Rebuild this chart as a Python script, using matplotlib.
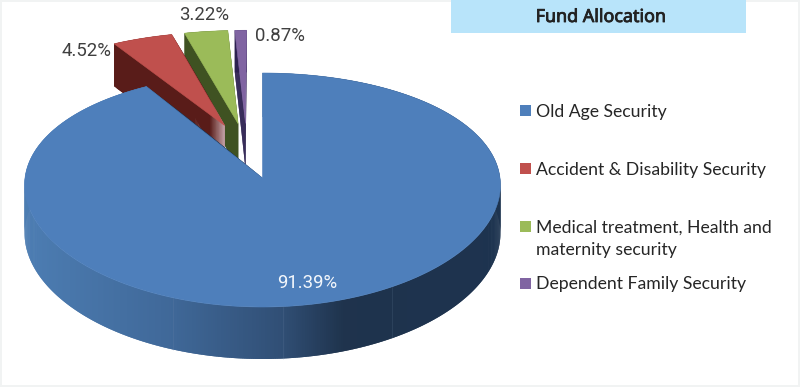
import numpy as np
import matplotlib
matplotlib.use('Agg')
import matplotlib.pyplot as plt
import matplotlib.patheffects as pe
from matplotlib.colors import to_rgb
from matplotlib.patches import Polygon, Rectangle

# data
categories = ['Old Age Security', 'Accident & Disability Security',
              'Medical treatment, Health and\nmaternity security', 'Dependent Family Security']
shares = [91.39, 4.52, 3.22, 0.87]

# style
top_colors = ['#4e7fbb', '#c0504d', '#9bbb59', '#8064a2']
wall_colors = ['#1d3350', '#591c19', '#3f5222', '#2c2050']
label_pos = [(307, 283), (86, 51), (204, 15), (280, 36)]
label_colors = ['#f2f6fb', '#404040', '#404040', '#404040']
legend_y = [110, 168, 226, 283]
seam_x = [173, 283, 392]
explode = 0.25


def project(u, q):
    # pie plane to picture pixels, a little perspective
    v = -np.asarray(q, dtype=float)
    x = 262.5 + 237.5 * np.asarray(u) * (1 + 0.06 * v)
    y = 178 + 117 * v + 12 * v ** 2
    return x, y, 48 + 4 * v


def direction(deg):
    a = np.radians(deg)
    return np.sin(a), np.cos(a)


def mix(c1, c2, t):
    c1, c2 = np.array(to_rgb(c1)), np.array(to_rgb(c2))
    return tuple(c1 + (c2 - c1) * t)


def blue_wall_color(x):
    # lit on the left, dark from the middle to the right
    xs = [25, 170, 283, 345, 505]
    rs = [0.30, 0.25, 0.19, 0.12, 0.115]
    gs = [0.49, 0.41, 0.31, 0.20, 0.20]
    bs = [0.70, 0.60, 0.46, 0.30, 0.31]
    return np.interp(x, xs, rs), np.interp(x, xs, gs), np.interp(x, xs, bs)


def add_strip(ax, x, y, d, color, j, z):
    # each strip runs over the next one so no gaps show between them
    k = min(j + 2, len(x) - 1)
    ax.add_patch(Polygon([(x[j], y[j]), (x[k], y[k]), (x[k], y[k] + d[k]), (x[j], y[j] + d[j])],
                         closed=True, facecolor=color, edgecolor='none', zorder=z))


fig = plt.figure(figsize=(8, 3.87), dpi=100, facecolor='#f1f3f3')
ax = fig.add_axes([0, 0, 1, 1])
ax.set_xlim(0, 800)
ax.set_ylim(387, 0)
ax.axis('off')
ax.add_patch(Rectangle((1.5, 1.5), 796.5, 383.5, facecolor='white', edgecolor='none', zorder=0))

# title box
ax.add_patch(Rectangle((451, 0), 295, 33, facecolor='#b8e4fa', edgecolor='none', zorder=1))
title = ax.text(601, 17, 'Fund Allocation', ha='center', va='center', fontsize=12.9,
                family='Noto Sans', color='#222222', zorder=2)
title.set_path_effects([pe.withStroke(linewidth=0.6, foreground='#222222')])

# slice angles, clockwise from 12 o'clock
ends = np.cumsum(shares) / sum(shares) * 360
starts = np.concatenate([[0], ends[:-1]])
mids = (starts + ends) / 2
bx, bq = direction(mids[0])
cu, cq = -explode * bx, -explode * bq   # main slice apex sits on the plane origin

# back slices first, main slice last
z = 3
for i in [3, 2, 1, 0]:
    du, dq = direction(mids[i])
    au, aq = cu + explode * du, cq + explode * dq
    arc = np.linspace(starts[i], ends[i], max(6, int((ends[i] - starts[i]) * 2)))
    su, sq = direction(arc)
    ou, oq = au + su, aq + sq

    # side walls of the two cut edges
    for k in [0, -1]:
        ts = np.linspace(0, 1, 40)
        eu, eq = ou[k] + (au - ou[k]) * ts, oq[k] + (aq - oq[k]) * ts
        ex, ey, ed = project(eu, eq)
        for j in range(len(ts) - 1):
            col = wall_colors[i]
            if i == 1 and ts[j] > 0.72:
                col = mix(wall_colors[i], '#c9a9ae', (ts[j] - 0.72) / 0.28)
            add_strip(ax, ex, ey, ed, col, j, z)

    # rim wall
    rx, ry, rd = project(ou, oq)
    for j in range(len(arc) - 1):
        col = blue_wall_color(rx[j]) if i == 0 else wall_colors[i]
        add_strip(ax, rx, ry, rd, col, j, z)

    # faint seams on the main wall
    if i == 0:
        front = oq < 0
        order = np.argsort(rx[front])
        for sx in seam_x:
            sy = np.interp(sx, rx[front][order], ry[front][order])
            sd = np.interp(sx, rx[front][order], rd[front][order])
            ax.plot([sx, sx], [sy, sy + sd], color='#7f97b5', lw=0.5, alpha=0.2, zorder=z)

    # top face
    tx, ty, _ = project(np.append(ou, au), np.append(oq, aq))
    ax.add_patch(Polygon(np.column_stack([tx, ty]), closed=True, facecolor=top_colors[i],
                         edgecolor=top_colors[i], linewidth=0.4, zorder=z + 1))
    z += 2

# value labels
for i, share in enumerate(shares):
    ax.text(label_pos[i][0], label_pos[i][1], f'{share:.2f}%', ha='center', va='center',
            fontsize=13.4, family='Roboto', color=label_colors[i], zorder=20)

# legend
for i, name in enumerate(categories):
    ax.add_patch(Rectangle((520, legend_y[i] - 5.5), 11, 11, facecolor=top_colors[i],
                           edgecolor='none', zorder=2))
    for j, line in enumerate(name.split('\n')):
        ax.text(536, legend_y[i] + 1.5 + j * 23, line, ha='left', va='center', fontsize=12.7,
                family='Lato', color='#262626', zorder=2)

fig.savefig('out.png', dpi=100, facecolor=fig.get_facecolor())
